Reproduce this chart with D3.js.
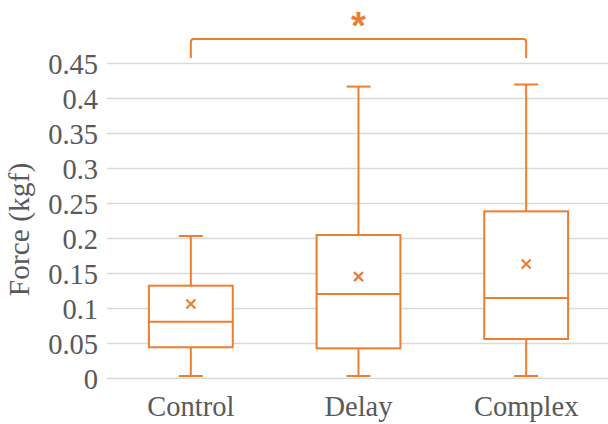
<!DOCTYPE html>
<html>
<head>
<meta charset="utf-8">
<script src="https://cdn.jsdelivr.net/npm/d3@7"></script>
<style>
  html, body { margin: 0; padding: 0; background: #fff; }
  svg { display: block; }
</style>
</head>
<body>
<svg id="chart" width="608" height="424"></svg>
<script>
// Box-plot summary per group
const categories = ["Control", "Delay", "Complex"];
const whiskerLow = [0.0036, 0.0036, 0.0036];
const q1 = [0.0446, 0.0431, 0.0564];
const median = [0.0811, 0.1207, 0.1150];
const q3 = [0.1326, 0.2050, 0.2388];
const whiskerHigh = [0.2036, 0.4170, 0.4200];
const means = [0.1064, 0.1455, 0.1636];
const yTicks = [0, 0.05, 0.1, 0.15, 0.2, 0.25, 0.3, 0.35, 0.4, 0.45];
const yTickLabels = ["0", "0.05", "0.1", "0.15", "0.2", "0.25", "0.3", "0.35", "0.4", "0.45"];
const yTitle = "Force (kgf)";
const sigPair = ["Control", "Complex"];
const sigMark = "*";

const orange = "#ED7D31";
const textGrey = "#595959";
const gridGrey = "#D9D9D9";
const serif = '"Liberation Serif"';
const sans = '"Liberation Sans"';

const svg = d3.select("#chart");

const x = d3.scaleBand().domain(categories).range([107, 610]).padding(0);
const y = d3.scaleLinear().domain([0, 0.45]).range([378.5, 63.5]);

// Horizontal gridlines
svg.append("g")
  .selectAll("line")
  .data(yTicks)
  .join("line")
  .attr("x1", x.range()[0])
  .attr("x2", x.range()[1])
  .attr("y1", d => y(d))
  .attr("y2", d => y(d))
  .attr("stroke", gridGrey)
  .attr("stroke-width", 1.3);

// Y tick labels
svg.append("g")
  .selectAll("text")
  .data(yTicks)
  .join("text")
  .style("font-family", serif)
  .attr("x", 98)
  .attr("y", d => y(d))
  .attr("dy", "0.37em")
  .attr("text-anchor", "end")
  .attr("font-size", 28.5)
  .attr("fill", textGrey)
  .text((d, i) => yTickLabels[i]);

// Y axis title
svg.append("text")
  .style("font-family", serif)
  .attr("transform", "translate(29,229.5) rotate(-90)")
  .attr("text-anchor", "middle")
  .attr("font-size", 29.5)
  .attr("fill", textGrey)
  .text(yTitle);

// Category labels
svg.append("g")
  .selectAll("text")
  .data(categories)
  .join("text")
  .style("font-family", serif)
  .attr("x", d => x(d) + x.bandwidth() / 2)
  .attr("y", 416)
  .attr("text-anchor", "middle")
  .attr("font-size", 28.5)
  .attr("fill", textGrey)
  .text(d => d);

// Boxes
const boxW = x.bandwidth() * 0.5;
const capW = 24;
const rows = categories.map((c, i) => ({
  c, lo: whiskerLow[i], q1: q1[i], med: median[i], q3: q3[i], hi: whiskerHigh[i], mean: means[i]
}));

const g = svg.append("g")
  .attr("fill", "none")
  .attr("stroke", orange)
  .attr("stroke-width", 2);

const box = g.selectAll("g.box")
  .data(rows)
  .join("g")
  .attr("class", "box")
  .attr("transform", d => `translate(${x(d.c) + x.bandwidth() / 2},0)`);

// whiskers
box.append("line")
  .attr("x1", 0).attr("x2", 0)
  .attr("y1", d => y(d.q3)).attr("y2", d => y(d.hi));
box.append("line")
  .attr("x1", 0).attr("x2", 0)
  .attr("y1", d => y(d.q1)).attr("y2", d => y(d.lo));
box.append("line")
  .attr("x1", -capW / 2).attr("x2", capW / 2)
  .attr("y1", d => y(d.hi)).attr("y2", d => y(d.hi));
box.append("line")
  .attr("x1", -capW / 2).attr("x2", capW / 2)
  .attr("y1", d => y(d.lo)).attr("y2", d => y(d.lo));

// interquartile box
box.append("rect")
  .attr("x", -boxW / 2)
  .attr("width", boxW)
  .attr("y", d => y(d.q3))
  .attr("height", d => y(d.q1) - y(d.q3))
  .attr("fill", "#fff");

// median
box.append("line")
  .attr("x1", -boxW / 2).attr("x2", boxW / 2)
  .attr("y1", d => y(d.med)).attr("y2", d => y(d.med));

// mean marker
const m = 4.5;
box.append("path")
  .attr("stroke-width", 2.3)
  .attr("d", d => {
    const yy = y(d.mean);
    return `M${-m},${yy - m}L${m},${yy + m}M${-m},${yy + m}L${m},${yy - m}`;
  });

// Significance bracket between two groups
const bx1 = x(sigPair[0]) + x.bandwidth() / 2;
const bx2 = x(sigPair[1]) + x.bandwidth() / 2;
const bTop = 39, bBot = 58, r = 3;
svg.append("path")
  .attr("d", `M${bx1},${bBot}V${bTop + r}Q${bx1},${bTop} ${bx1 + r},${bTop}H${bx2 - r}Q${bx2},${bTop} ${bx2},${bTop + r}V${bBot}`)
  .attr("fill", "none")
  .attr("stroke", orange)
  .attr("stroke-width", 2);

svg.append("text")
  .attr("x", (bx1 + bx2) / 2)
  .attr("y", 39)
  .attr("text-anchor", "middle")
  .style("font-family", sans)
  .attr("font-weight", "bold")
  .attr("font-size", 38)
  .attr("fill", orange)
  .text(sigMark);
</script>
</body>
</html>
